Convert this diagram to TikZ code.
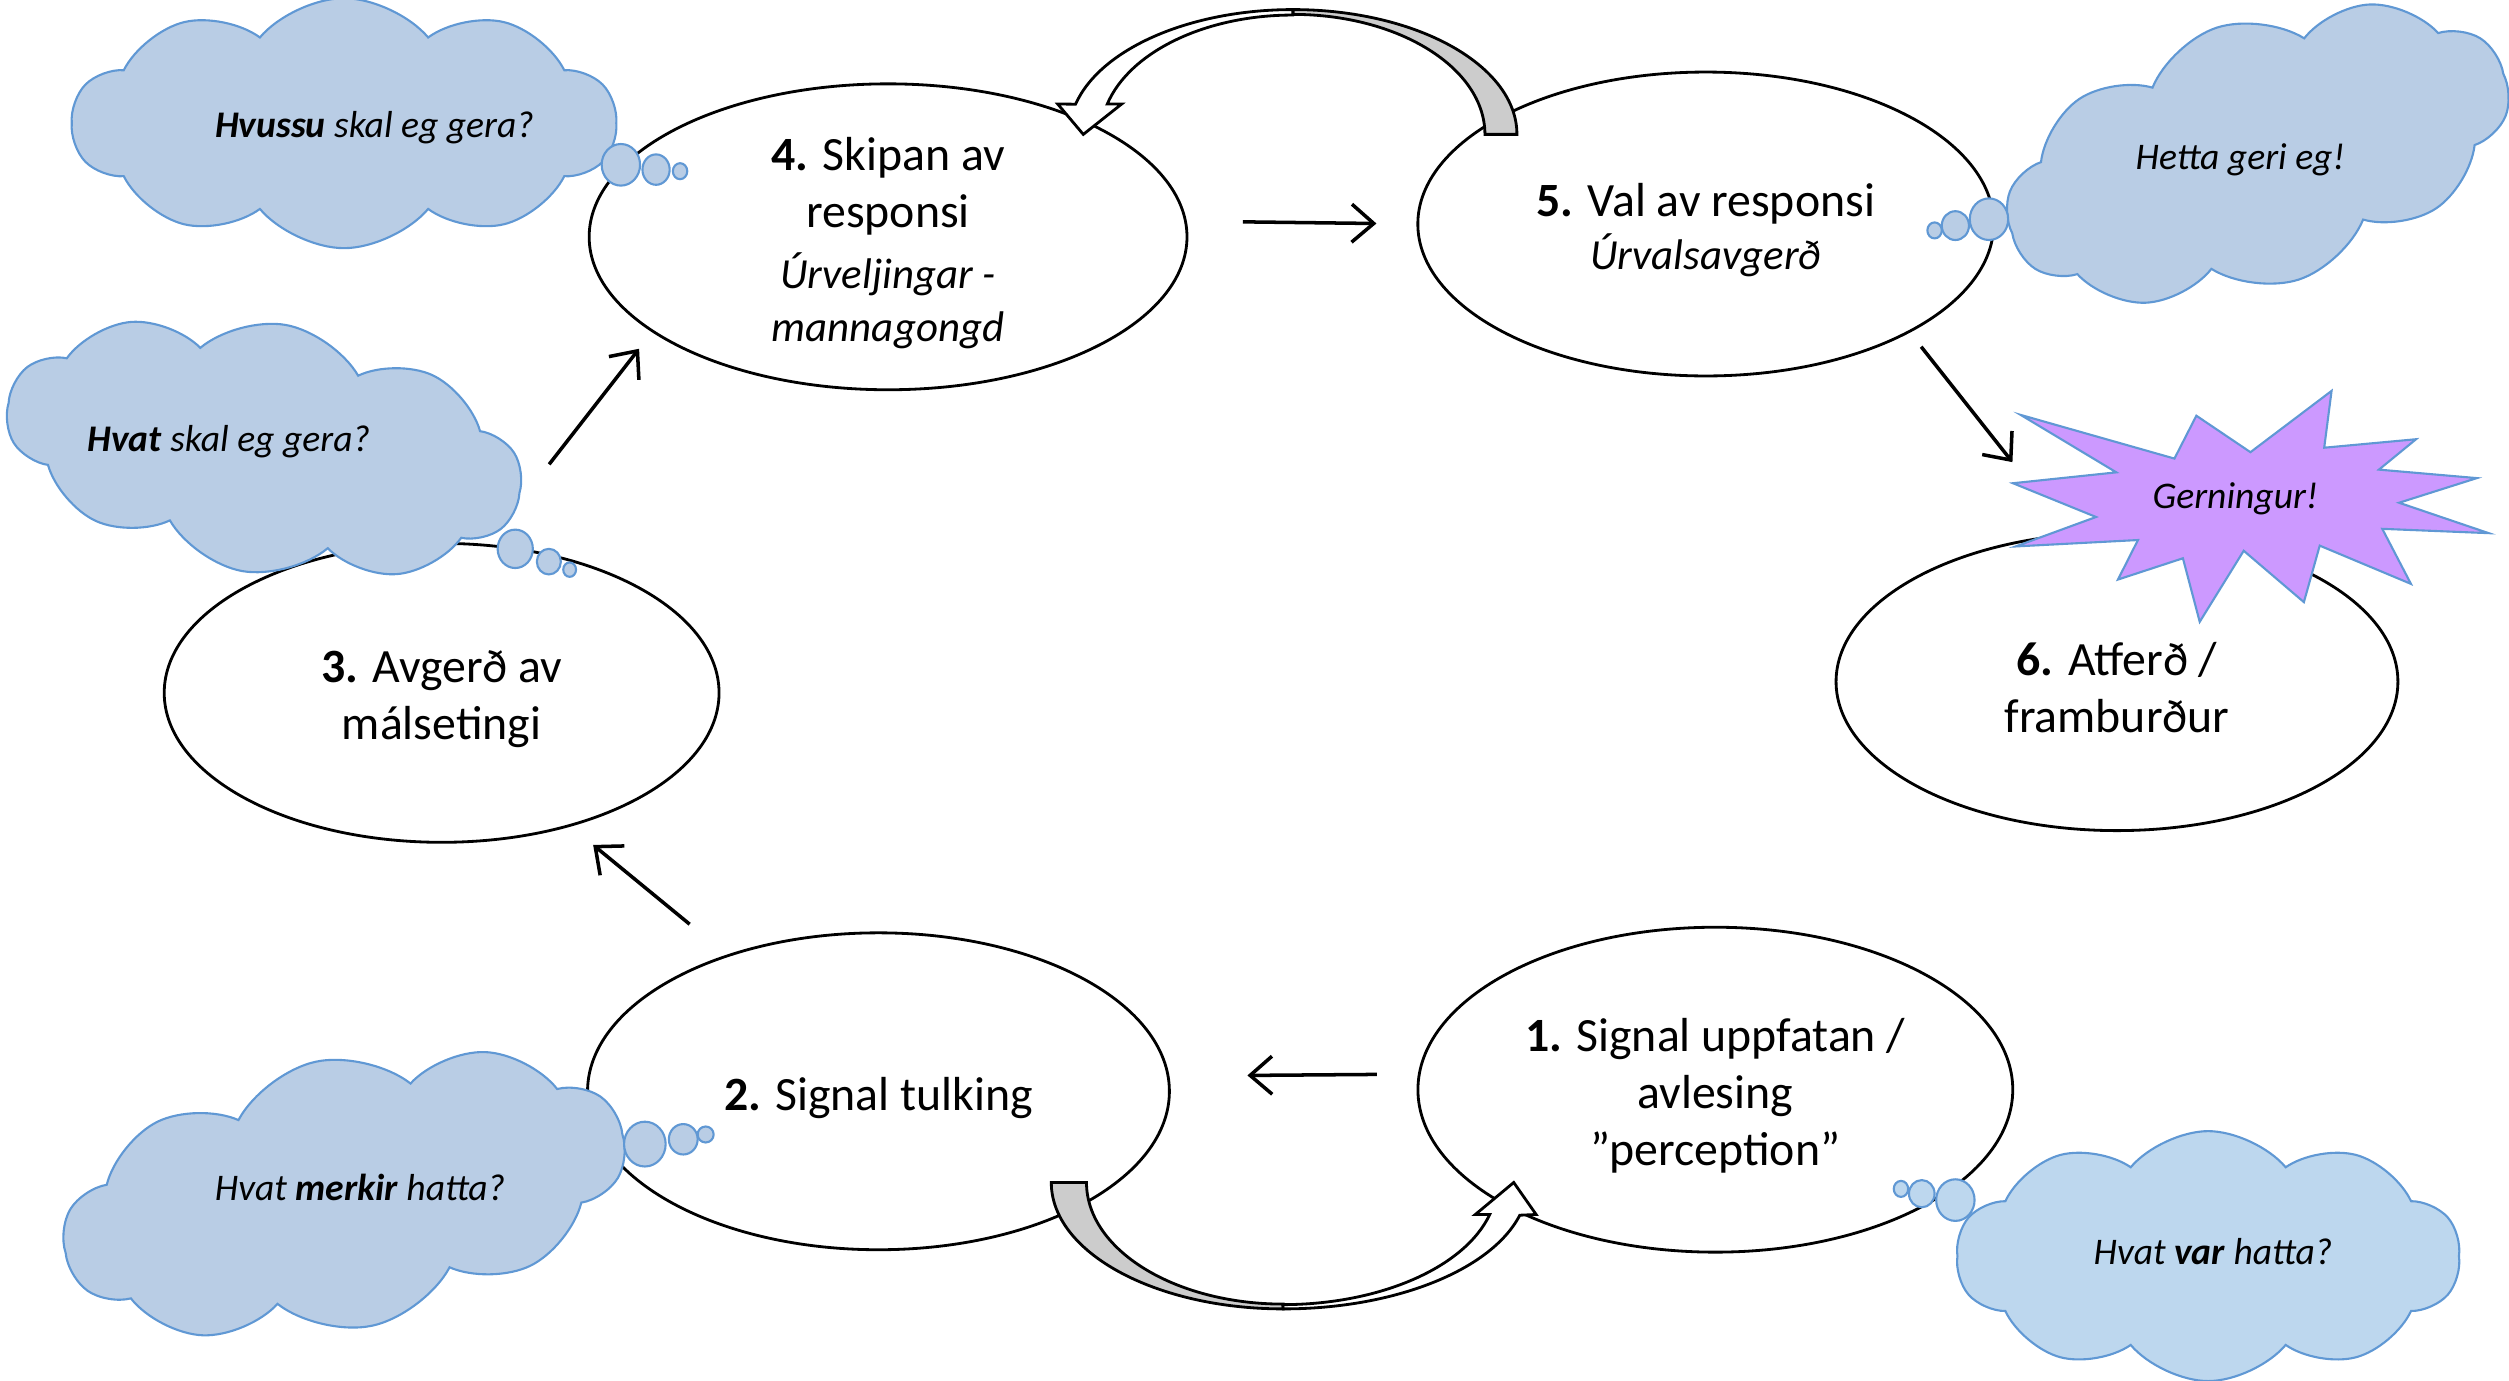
\documentclass[tikz,border=0pt]{standalone}
\usepackage{fontspec}
\setmainfont{Carlito}
\usepackage{xcolor}
\usetikzlibrary{arrows.meta,shapes.symbols,shapes.geometric}

\definecolor{cloudfill}{RGB}{185,205,229}
\definecolor{cloudfillb}{RGB}{189,215,238}
\definecolor{cloudline}{RGB}{96,152,212}
\definecolor{burstfill}{RGB}{204,153,255}
\definecolor{tailgray}{RGB}{204,204,204}

\newcommand{\subline}[1]{{\fontsize{12.2}{15}\selectfont\itshape #1}}

\tikzset{
  stagebox/.style={ellipse, draw, fill=white, line width=0.8pt, inner sep=0pt},
  stagetext/.style={align=center, inner sep=0pt, yshift=-1.8pt, font=\fontsize{13.6}{16.2}\selectfont},
  flowarrow/.style={-{Straight Barb[length=2.2mm,width=3.8mm]}, line width=1pt},
  thoughtbubble/.style={fill=cloudfill, draw=cloudline, line width=0.6pt},
  thoughtcloud/.style={thoughtbubble, cloud, cloud puffs=10, cloud puff arc=100, cloud ignores aspect, inner sep=0pt},
  thinktext/.style={font=\fontsize{10.7}{13}\selectfont\itshape},
  blockarrow/.style={draw, line width=0.8pt, line join=miter}
}

\begin{document}
\begin{tikzpicture}[x=0.016cm, y=-0.016cm]
\useasboundingbox (0,0) rectangle (1568,863);

%%%%%
%% stages
%%%%%
\node[stagebox, minimum width=5.98cm, minimum height=3.06cm] (e4) at (555,148) {};
\node[stagetext] (t4) at (e4) {\textbf{4.} Skipan av\\ responsi\\[1.1pt] \subline{Úrveljingar -}\\[-1.2pt] \subline{mannagongd}};
\node[stagebox, minimum width=5.76cm, minimum height=3.04cm] (e5) at (1066,140) {};
\node[stagetext] (t5) at (e5) {\textbf{5.} Val av responsi\\[-1.2pt] \subline{Úrvalsavgerð}};
\node[stagebox, minimum width=5.55cm, minimum height=2.99cm] (e3) at (276,433) {};
\node[stagetext] (t3) at (e3) {\textbf{3.} Avgerð av\\ málsetingi};
\node[stagebox, minimum width=5.62cm, minimum height=2.98cm] (e6) at (1323,426) {};
\node[stagetext] (t6) at (e6) {\textbf{6.} Atferð /\\ framburður};
\node[stagebox, minimum width=5.82cm, minimum height=3.17cm] (e2) at (549,682) {};
\node[stagetext] (t2) at (e2) {\textbf{2.} Signal tulking};
\node[stagebox, minimum width=5.95cm, minimum height=3.25cm] (e1) at (1072,681) {};
\node[stagetext] (t1) at (e1) {\textbf{1.} Signal uppfatan /\\ avlesing\\ ”perception”};

%%%%%
%% arrows
%%%%%
\draw[flowarrow, shorten <=0.56cm, shorten >=0.4cm] (e4.3) -- (e5.west);
\draw[flowarrow, shorten <=0.18cm, shorten >=0.91cm] (e5.332) -- (e6.108);
\draw[flowarrow, shorten <=0.41cm, shorten >=0.78cm] (e1.177) -- (e2.3);
\draw[flowarrow, shorten <=0.48cm, shorten >=0.29cm] (e2.138) -- (e3.314);
\draw[flowarrow, shorten <=1.01cm, shorten >=0.21cm] (e3.73) -- (e4.202);

%%%%%
%% thoughts
%%%%%
\node[thoughtcloud, minimum width=5.44cm, minimum height=2.5cm] (c4) at (215,77) {};
\node[thinktext] (q4) at (234,80) {\textbf{Hvussu} skal eg gera?};
\draw[thoughtbubble] (388,103) ellipse [x radius=12, y radius=13];
\draw[thoughtbubble] (410,106) ellipse [x radius=8.5, y radius=9.5];
\draw[thoughtbubble] (425,107) ellipse [x radius=4.5, y radius=5];

\node[thoughtcloud, rotate=-10, minimum width=5.2cm, minimum height=2.5cm] (c3) at (165,280) {};
\node[thinktext] (q3) at (143,276) {\textbf{Hvat} skal eg gera?};
\draw[thoughtbubble] (322,343) ellipse [x radius=11, y radius=12];
\draw[thoughtbubble] (343,351) ellipse [x radius=7.5, y radius=8];
\draw[thoughtbubble] (356,356) ellipse [x radius=4, y radius=4.5];

\node[thoughtcloud, rotate=18, minimum width=5.2cm, minimum height=2.65cm] (c5) at (1411,96) {};
\node[thinktext] (q5) at (1400,100) {Hetta geri eg!};
\draw[thoughtbubble] (1243,137) ellipse [x radius=12, y radius=13];
\draw[thoughtbubble] (1222,141) ellipse [x radius=8.5, y radius=9];
\draw[thoughtbubble] (1209,144) ellipse [x radius=4.5, y radius=5];

\node[thoughtcloud, rotate=12, minimum width=5.7cm, minimum height=2.7cm] (c2) at (215,746) {};
\node[thinktext] (q2) at (225,742) {Hvat \textbf{merkir} hatta?};
\draw[thoughtbubble] (403,715) ellipse [x radius=13, y radius=14];
\draw[thoughtbubble] (427,712) ellipse [x radius=9, y radius=9.5];
\draw[thoughtbubble] (441,709) ellipse [x radius=5, y radius=5];

\node[thoughtcloud, fill=cloudfillb, minimum width=5.04cm, minimum height=2.5cm] (c1) at (1380,785) {};
\node[thinktext] (q1) at (1383,782) {Hvat \textbf{var} hatta?};
\draw[thoughtbubble, fill=cloudfillb] (1222,750) ellipse [x radius=12, y radius=13];
\draw[thoughtbubble, fill=cloudfillb] (1201,746) ellipse [x radius=8, y radius=8.5];
\draw[thoughtbubble, fill=cloudfillb] (1188,743) ellipse [x radius=4.5, y radius=5];

%%%%%
%% deed
%%%%%
\draw[fill=burstfill, draw=cloudline, line width=0.6pt] (1262.8,259.3) -- (1358.9,286.6) -- (1372.6,259.8) -- (1406.4,282.6) -- (1457.1,244.3) -- (1452.5,279.8) -- (1509.9,274.5) -- (1486.7,293.5) -- (1547.9,298.8) -- (1499.3,314.2) -- (1555.3,333.2) -- (1488.8,330.5) -- (1506.7,364.9) -- (1449.7,341.0) -- (1439.8,376.3) -- (1402.2,344.2) -- (1374.7,388.6) -- (1364.2,348.9) -- (1323.6,362.2) -- (1336.1,337.5) -- (1259.7,341.5) -- (1309.9,323.1) -- (1258.0,302.0) -- (1322.6,295.2) -- cycle;
\node[thinktext] (act) at (1397,312) {Gerningur!};

%%%%%
%% curved arrows
%%%%%
\draw[blockarrow, fill=tailgray] (948,84) arc[start angle=0, end angle=-90, x radius=140, y radius=78] -- (808,9) arc[start angle=-90, end angle=0, x radius=120, y radius=75] -- cycle;
\draw[blockarrow, fill=white] (808,6) arc[start angle=-90, end angle=-166, x radius=140, y radius=78] -- (661,65) -- (677,84) -- (701,65) -- (692,65) arc[start angle=-165, end angle=-90, x radius=120, y radius=75] -- cycle;

\draw[blockarrow, fill=tailgray] (657,739) arc[start angle=180, end angle=90, x radius=145, y radius=79] -- (802,815) arc[start angle=90, end angle=180, x radius=123, y radius=76] -- cycle;
\draw[blockarrow, fill=white] (802,818) arc[start angle=90, end angle=15, x radius=153, y radius=79] -- (960,759) -- (946,739) -- (922,759) -- (931,759) arc[start angle=15, end angle=90, x radius=134, y radius=76] -- cycle;

\end{tikzpicture}
\end{document}
